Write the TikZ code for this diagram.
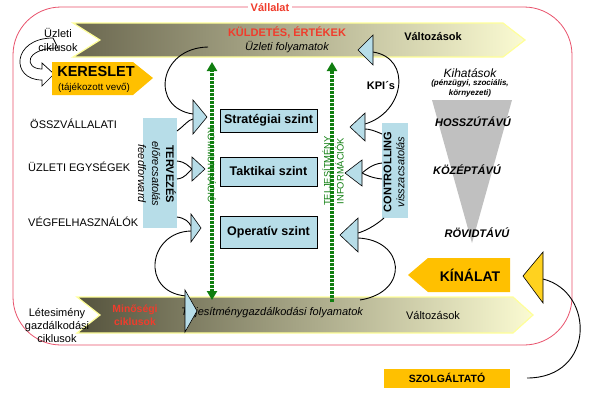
\documentclass[tikz,border=0pt]{standalone}
\usepackage{fontspec}
\setmainfont{Liberation Sans}
\usetikzlibrary{arrows.meta}
\definecolor{lblue}{HTML}{B7DDE8}
\definecolor{gold}{HTML}{FFC000}
\definecolor{ygold}{HTML}{FFD21F}
\definecolor{framec}{HTML}{E8506A}
\definecolor{redtxt}{HTML}{F03C2C}
\definecolor{grn}{HTML}{107E10}
\definecolor{bandL}{HTML}{6A674F}
\definecolor{bandLB}{HTML}{55533D}
\definecolor{bandR}{HTML}{FBFBD2}
\definecolor{bandB}{HTML}{FFFF99}
\definecolor{grayt}{HTML}{C0C0C0}
\tikzset{gtip/.tip={Triangle[width=10pt,length=9pt]}}
\begin{document}
\begin{tikzpicture}[x=1pt,y=-1pt,
  conn/.style={draw=black,line width=0.9pt},
  tri/.style={draw=black,fill=lblue,line width=0.6pt},
  band/.style={draw=bandB,line width=1.2pt,left color=bandL,right color=bandR},
  lvl/.style={draw=black,fill=lblue,line width=0.8pt,font=\bfseries\fontsize{12.5}{14}\selectfont,minimum width=97pt,inner sep=0pt},
  txt/.style={font=\fontsize{11}{13}\selectfont,inner sep=0pt,align=center},
  btxt/.style={font=\bfseries\fontsize{11}{13}\selectfont,inner sep=0pt,align=center},
  gline/.style={draw=grn,line width=3.3pt,dash pattern=on 3pt off 1pt},
  gtxt/.style={font=\fontsize{9.4}{13}\selectfont,text=grn,inner sep=0pt,align=center}
]
\useasboundingbox (0,0) rectangle (597,402);
% frame
\draw[framec,line width=0.8pt,rounded corners=48pt] (13,7) rectangle (572,345);
\node[font=\bfseries\fontsize{11}{13}\selectfont,text=redtxt,fill=white,inner sep=3pt] (vall) at (270,8) {Vállalat};
% bands
\path[band] (73,23) -- (503,23) -- (525,40) -- (503,57) -- (73,57) -- (100,40) -- cycle;
\path[band,left color=bandLB] (77,297) -- (513,297) -- (533,315) -- (513,333) -- (77,333) -- (100,315) -- cycle;
\node[btxt,text=redtxt] (kuld) at (287,32) {KÜLDETÉS, ÉRTÉKEK};
\node[txt,font=\itshape\fontsize{11}{13}\selectfont] (uzf) at (287,47) {Üzleti folyamatok};
\node[btxt] (valt1) at (433,37) {Változások};
\node[btxt,text=redtxt,font=\bfseries\fontsize{10.4}{13}\selectfont] (minos) at (135,315) {Minőségi\\ciklusok};
\node[txt,font=\itshape\fontsize{11}{13}\selectfont] (telj) at (272,313) {Teljesítménygazdálkodási folyamatok};
\node[txt] (valt2) at (433,315) {Változások};
% left texts
\node[txt] (uzc) at (58,40) {Üzleti\\[1pt]ciklusok};
\node[txt] (letes) at (57,325) {Létesimény\\gazdálkodási\\ciklusok};
\node[txt,anchor=west] (ossz) at (30,124) {ÖSSZVÁLLALATI};
\node[txt,anchor=west] (uzle) at (28,167) {ÜZLETI EGYSÉGEK};
\node[txt,anchor=west] (vegf) at (28,222) {VÉGFELHASZNÁLÓK};
% hollow curved arrow
\draw[black,line width=0.7pt] (53,38) .. controls (12,38) and (10,80) .. (42,80) -- (42,86) -- (54,74) -- (42,63) -- (42,69) .. controls (24,69) and (24,48) .. (58,48) -- (53,38);
% KERESLET
\path[fill=gold] (52,62) -- (133,62) -- (153,78) -- (133,95) -- (52,95) -- cycle;
\node[btxt,font=\bfseries\fontsize{14.5}{16}\selectfont] (ker) at (96,72) {KERESLET};
\node[txt,font=\fontsize{9.8}{12}\selectfont] (tajv) at (94,88) {(tájékozott vevő)};
% TERVEZES box
\node[fill=lblue,minimum width=34pt,minimum height=110pt,inner sep=0pt] (terv) at (160,173) {};
\node[txt,rotate=-90,font=\fontsize{11}{14}\selectfont] (tervt) at (157,174) {\textbf{TERVEZÉS}\\\textit{előrecsatolás}\\\textit{feedforward}};
% CONTROLLING box
\node[fill=lblue,minimum width=26pt,minimum height=95pt,inner sep=0pt] (ctrl) at (395,170.5) {};
\node[txt,rotate=90,font=\fontsize{11}{13}\selectfont] (ctrlt) at (394,172) {\textbf{CONTROLLING}\\\textit{visszacsatolás}};
% level boxes
\node[lvl,minimum height=23pt] (strat) at (268.5,120.5) {Stratégiai szint};
\node[lvl,minimum height=29pt] (takt) at (268.5,171.5) {Taktikai szint};
\node[lvl,minimum height=32pt] (oper) at (268.5,232) {Operatív szint};
% green lines
\coordinate (g1t) at (212,62); \coordinate (g1b) at (212,300);
\coordinate (g2t) at (332,62); \coordinate (g2b) at (332,302);
\draw[gline,gtip-gtip] (g1b) -- (g1t);
\draw[gline,-gtip] (g2b) -- (g2t);
\node[gtxt,rotate=-90] (komm) at (212,165) {KOMMUNIKÁCIÓ};
\node[gtxt,rotate=90] (tinf) at (333,171) {TELJESÍTMÉNY\\INFORMÁCIÓK};
% coordinates for connectors
\coordinate (tb1) at (208,47);
\coordinate (L1a) at (193,114); \coordinate (L1b) at (193,119);
\coordinate (L2) at (192,169);
\coordinate (L3a) at (191,226); \coordinate (L3b) at (191,231);
\coordinate (Bt) at (186,296);
\coordinate (tv1) at (177,131); \coordinate (tv2) at (177,161);
\coordinate (tv3) at (177,179); \coordinate (tv4) at (177,217);
\coordinate (R1a) at (365,124); \coordinate (R1b) at (365,129);
\coordinate (R2) at (362,173);
\coordinate (R3a) at (358,233); \coordinate (R3b) at (358,238);
\coordinate (Kb) at (373,52);
\coordinate (ct1) at (382,134); \coordinate (ct2) at (382,163);
\coordinate (ct3) at (382,179); \coordinate (ct4) at (384,218);
\coordinate (bb) at (360,300);
% left connectors
\draw[conn] (tb1) .. controls (158,48) and (150,108) .. (L1a);
\draw[conn] (tv1) .. controls (185,125) and (188,120) .. (L1b);
\draw[conn] (tv2) .. controls (186,162) and (188,166) .. (L2);
\draw[conn] (tv3) .. controls (186,178) and (188,172) .. (L2);
\draw[conn] (tv4) .. controls (185,218) and (189,222) .. (L3a);
\draw[conn] (L3b) .. controls (148,232) and (140,292) .. (Bt);
% right connectors
\draw[conn] (R1a) .. controls (405,112) and (412,58) .. (Kb);
\draw[conn] (ct1) .. controls (375,131) and (370,129) .. (R1b);
\draw[conn] (ct2) .. controls (372,164) and (366,170) .. (R2);
\draw[conn] (ct3) .. controls (372,178) and (366,175) .. (R2);
\draw[conn] (ct4) .. controls (375,226) and (365,231) .. (R3a);
\draw[conn] (R3b) .. controls (405,240) and (410,292) .. (bb);
% triangles
\draw[tri] (193,100) -- (207,117) -- (193,134) -- cycle;
\draw[tri] (192,157) -- (205,169) -- (192,181) -- cycle;
\draw[tri] (191,214) -- (201,228) -- (191,242) -- cycle;
\draw[tri] (185,290) -- (197,311) -- (185,332) -- cycle;
\draw[tri] (365,113) -- (350,127) -- (365,141) -- cycle;
\draw[tri] (362,160) -- (345,173) -- (362,186) -- cycle;
\draw[tri] (358,218) -- (340,235) -- (358,252) -- cycle;
\draw[tri] (373,35) -- (358,50) -- (373,65) -- cycle;
\node[btxt] (kpi) at (381,86) {KPI´s};
% right side
\node[txt,font=\itshape\fontsize{12}{14}\selectfont] (kihat) at (470,73) {Kihatások};
\node[txt,font=\bfseries\itshape\fontsize{8}{9.5}\selectfont] (kihat2) at (470,88.5) {(pénzügyi, szociális,\\környezeti)};
\path[fill=grayt] (432,100) -- (512,100) -- (472,243) -- cycle;
\node[btxt,font=\bfseries\itshape\fontsize{11}{13}\selectfont] (hossz) at (473,122) {HOSSZÚTÁVÚ};
\node[btxt,font=\bfseries\itshape\fontsize{11}{13}\selectfont] (kozep) at (467,170) {KÖZÉPTÁVÚ};
\node[btxt,font=\bfseries\itshape\fontsize{11}{13}\selectfont] (rovid) at (477,233) {RÖVIDTÁVÚ};
\path[fill=gold] (408,275) -- (428,258) -- (510,258) -- (510,292) -- (428,292) -- cycle;
\node[btxt,font=\bfseries\fontsize{14}{16}\selectfont] (kinal) at (470,275) {KÍNÁLAT};
\draw[draw=black,fill=ygold,line width=0.6pt] (543,252) -- (523,276) -- (543,303) -- cycle;
\node[fill=gold,minimum width=126pt,minimum height=19pt,inner sep=0pt,font=\bfseries\fontsize{10.5}{12}\selectfont] (szolg) at (447,378) {SZOLGÁLTATÓ};
\coordinate (gt) at (543,279);
\coordinate (szc) at (527,378);
\draw[conn] (gt) .. controls (595,292) and (595,378) .. (szc);
\end{tikzpicture}
\end{document}
